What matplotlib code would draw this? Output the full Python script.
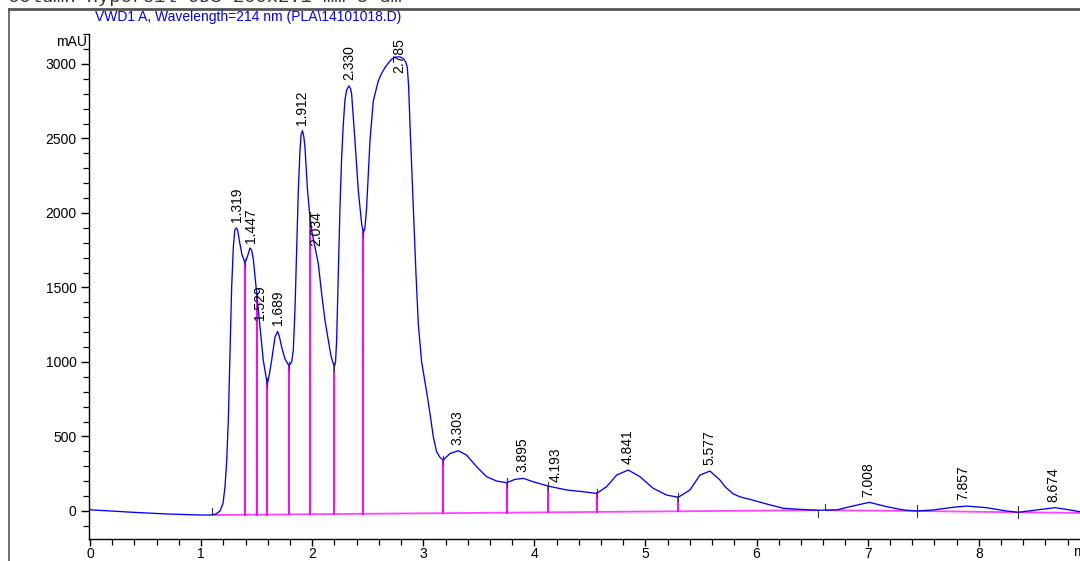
import numpy as np
import matplotlib
matplotlib.use("Agg")
import matplotlib.pyplot as plt
from matplotlib.lines import Line2D
from matplotlib.ticker import MultipleLocator

plt.rcParams['font.family'] = ['Liberation Sans', 'DejaVu Sans']

# Detector trace (time in min, signal in mAU)
time_min = [0.00, 0.39, 0.69, 0.99, 1.08, 1.134, 1.17, 1.197, 1.215, 1.23,
            1.245, 1.26, 1.275, 1.29, 1.30, 1.305, 1.319, 1.33, 1.344, 1.368,
            1.395, 1.418, 1.44, 1.455, 1.47, 1.50, 1.53, 1.56, 1.596, 1.615,
            1.635, 1.665, 1.689, 1.705, 1.725, 1.755, 1.791, 1.815, 1.83, 1.845,
            1.86, 1.875, 1.89, 1.90, 1.912, 1.925, 1.935, 1.956, 1.974, 1.995,
            2.025, 2.055, 2.085, 2.115, 2.145, 2.169, 2.199, 2.21, 2.22, 2.235,
            2.25, 2.265, 2.28, 2.295, 2.31, 2.33, 2.345, 2.355, 2.385, 2.415,
            2.445, 2.46, 2.475, 2.49, 2.52, 2.55, 2.595, 2.62, 2.655, 2.69,
            2.715, 2.745, 2.775, 2.80, 2.826, 2.843, 2.856, 2.868, 2.88, 2.91,
            2.934, 2.955, 2.985, 3.03, 3.06, 3.09, 3.12, 3.15, 3.18, 3.24,
            3.315, 3.39, 3.48, 3.57, 3.66, 3.75, 3.825, 3.90, 3.99, 4.125,
            4.29, 4.44, 4.56, 4.65, 4.74, 4.845, 4.95, 5.07, 5.19, 5.295,
            5.40, 5.49, 5.58, 5.67, 5.72, 5.79, 5.85, 5.94, 6.09, 6.24,
            6.39, 6.54, 6.72, 6.84, 7.015, 7.17, 7.32, 7.44, 7.59, 7.77,
            7.89, 8.07, 8.25, 8.355, 8.52, 8.686, 8.82, 8.91]
signal_mau = [8, -9, -20, -27, -27, -20, 0, 50, 160, 330,
              610, 1058, 1500, 1770, 1860, 1890, 1900, 1880, 1815, 1720,
              1665, 1710, 1765, 1750, 1690, 1460, 1235, 1010, 850, 920,
              1011, 1167, 1205, 1170, 1100, 1020, 975, 1000, 1080, 1350,
              1750, 2150, 2420, 2525, 2552, 2510, 2440, 2172, 2016, 1882,
              1770, 1659, 1458, 1279, 1145, 1040, 967, 1000, 1145, 1592,
              2038, 2373, 2597, 2760, 2825, 2853, 2835, 2798, 2485, 2150,
              1927, 1864, 1900, 2038, 2485, 2753, 2887, 2930, 2976, 3010,
              3032, 3045, 3048, 3045, 3032, 3010, 2976, 2850, 2597, 2038,
              1592, 1257, 1000, 800, 654, 498, 397, 360, 342, 386,
              404, 375, 297, 230, 201, 190, 212, 219, 196, 167,
              141, 129, 118, 163, 241, 275, 230, 152, 107, 92,
              141, 241, 268, 208, 160, 115, 95, 78, 47, 18,
              11, 5, 7, 29, 58, 29, 7, 0, 7, 25,
              33, 22, 0, -9, 7, 22, 7, -5]

# Retention times of integrated peaks
peak_rt = [1.319, 1.447, 1.529, 1.689, 1.912, 2.034, 2.330, 2.785,
           3.303, 3.895, 4.193, 4.841, 5.577, 7.008, 7.857, 8.674]

# Integration baseline segments (min, mAU)
baseline_t = [[1.10, 6.55], [6.62, 7.44], [7.44, 8.35], [8.35, 8.95]]
baseline_v = [[-27, 5.5], [5, 0], [0, -9], [-9, -13]]

# Peak split (drop) times
drop_t = [1.395, 1.503, 1.593, 1.791, 1.980, 2.199, 2.460,
          3.18, 3.753, 4.122, 4.563, 5.292]

# Baseline event marks: (time, direction)  +1 up, -1 down, 0 both
event_t = [1.10, 6.55, 6.62, 7.44, 8.35]
event_dir = [1, -1, 1, 0, 0]

W, H = 1080, 561
fig = plt.figure(figsize=(W / 100, H / 100), dpi=100)

# axes box in pixel terms
left_px, right_px, top_px, bottom_px = 89, 1080, 34, 539
ax = fig.add_axes([left_px / W, (H - bottom_px) / H,
                   (right_px - left_px) / W, (bottom_px - top_px) / H])

x0 = -0.009
x1 = x0 + (right_px - left_px) / 111.1
ax.set_xlim(x0, x1)
ax.set_ylim(-188, 3201)

t = np.array(time_min)
s = np.array(signal_mau)

# baseline
pink = '#ff44ff'
for bt, bv in zip(baseline_t, baseline_v):
    ax.plot(bt, bv, color=pink, lw=1.3, solid_capstyle='butt', zorder=2)


def base_at(x):
    for bt, bv in zip(baseline_t, baseline_v):
        if bt[0] <= x <= bt[1]:
            return np.interp(x, bt, bv)
    return 0.0


# drop lines
for d in drop_t:
    top = np.interp(d, t, s)
    ax.plot([d, d], [base_at(d), top], color='#ff00ff', lw=1.4, zorder=2)
    ax.plot([d, d], [top - 28, top + 28], color='#333333', lw=0.8, zorder=4)

# baseline event marks
for e, dr in zip(event_t, event_dir):
    b = base_at(e)
    if dr > 0:
        ys = [b, b + 45]
    elif dr < 0:
        ys = [b - 45, b]
    else:
        ys = [b - 40, b + 40]
    ax.plot([e, e], ys, color='#333333', lw=0.8, zorder=4)

# trace
ax.plot(t, s, color='#0000ff', lw=0.95, zorder=3, solid_joinstyle='round')

# peak labels
for rt in peak_rt:
    v = np.interp(rt, t, s)
    if v + 40 + 235 > 3180:
        ax.text(rt, 3175, f"{rt:.3f}", rotation=90, ha='center', va='top',
                fontsize=10, color='black', zorder=5)
    else:
        ax.text(rt, v + 40, f"{rt:.3f}", rotation=90, ha='center', va='bottom',
                fontsize=10, color='black', zorder=5)

# axes styling
for sp in ['top', 'right']:
    ax.spines[sp].set_visible(False)
for sp in ['left', 'bottom']:
    ax.spines[sp].set_linewidth(1.0)
    ax.spines[sp].set_color('black')

ax.xaxis.set_major_locator(MultipleLocator(1))
ax.xaxis.set_minor_locator(MultipleLocator(0.2))
ax.yaxis.set_major_locator(MultipleLocator(500))
ax.yaxis.set_minor_locator(MultipleLocator(100))
ax.set_yticks([0, 500, 1000, 1500, 2000, 2500, 3000])
ax.tick_params(axis='y', which='major', direction='out', length=6,
               width=1.0, labelsize=10, pad=3)
ax.tick_params(axis='x', which='major', direction='out', length=5,
               width=1.0, labelsize=10, pad=0.5)
ax.tick_params(axis='both', which='minor', direction='out', length=4, width=0.9)

ax.text(-0.03, 3150, 'mAU', ha='right', va='center', fontsize=10)
ax.text(8.85, -275, 'min', ha='left', va='center', fontsize=10, clip_on=False)

# header text and frame
fig.text(95 / W, 1 - 17 / H, 'VWD1 A, Wavelength=214 nm (PLA\\14101018.D)',
         color='#0000ff', fontsize=10, ha='left', va='center')
fig.text(8 / W, 1 - 2 / H, 'Column Hypersil ODS 200x2.1 mm 5 um',
         family=['Liberation Mono', 'DejaVu Sans Mono'], fontsize=13.5,
         color='#333333', ha='left', va='baseline')
fig.add_artist(Line2D([9 / W, 1.0], [1 - 9 / H, 1 - 9 / H],
                      transform=fig.transFigure, color='#555555', lw=2))
fig.add_artist(Line2D([9 / W, 9 / W], [1 - 9 / H, 0.0],
                      transform=fig.transFigure, color='#555555', lw=1.2))

fig.savefig('out.png', dpi=100)
